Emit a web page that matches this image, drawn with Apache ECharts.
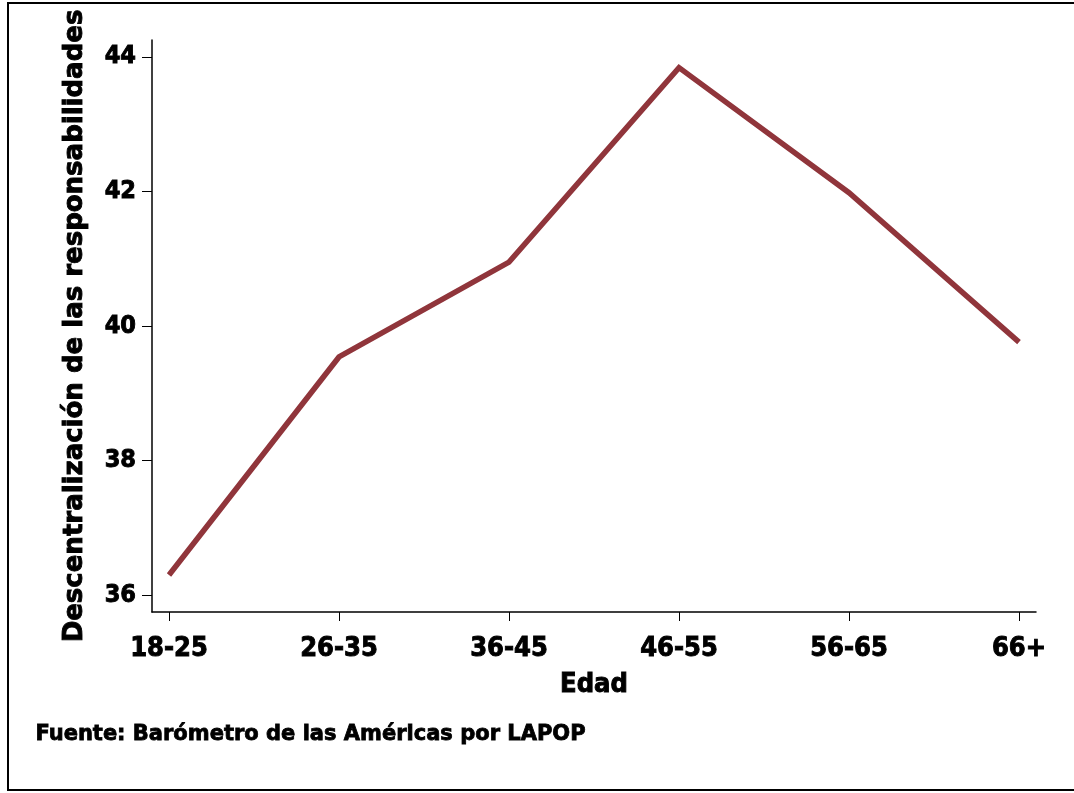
<!DOCTYPE html>
<html>
<head>
<meta charset="utf-8">
<script src="https://cdn.jsdelivr.net/npm/echarts@6/dist/echarts.min.js"></script>
<style>
html,body{margin:0;padding:0;background:#fff;}
#chart{width:1074px;height:793px;}
</style>
</head>
<body>
<div id="chart"></div>
<script>
const categories = ['18-25','26-35','36-45','46-55','56-65','66+'];
const values = [36.30, 39.54, 40.95, 43.84, 41.98, 39.76];
const yTicks = [36, 38, 40, 42, 44];
const yAxisTitle = 'Descentralización de las responsabilidades';
const xAxisTitle = 'Edad';
const sourceNote = 'Fuente: Barómetro de las Américas por LAPOP';

const FONT = '"DejaVu Sans", sans-serif';
const FONTC = '"DejaVu Sans Condensed", "DejaVu Sans", sans-serif';
const heavy = {textBorderColor:'#000', textBorderWidth:0.9};
const chart = echarts.init(document.getElementById('chart'), null, {renderer:'canvas'});
const xIdx = categories.map((c,i)=>i);
chart.setOption({
  animation:false,
  backgroundColor:'#fff',
  grid:{left:152, right:38, top:40, bottom:181},
  xAxis:{
    type:'value', min:-0.1, max:5.1,
    splitLine:{show:false},
    axisLine:{show:true, onZero:false, lineStyle:{color:'#000', width:1.5}},
    axisTick:{show:true, length:9, customValues:xIdx, lineStyle:{color:'#000', width:1}},
    axisLabel:Object.assign({customValues:xIdx, formatter:v=>categories[Math.round(v)], color:'#000',
      fontFamily:FONTC, fontWeight:'bold', fontSize:27, margin:23}, heavy),
    name:xAxisTitle, nameLocation:'middle', nameGap:59,
    nameTextStyle:Object.assign({color:'#000', fontFamily:FONTC, fontWeight:'bold', fontSize:27}, heavy)
  },
  yAxis:{
    type:'value', min:35.75, max:44.25,
    splitLine:{show:false},
    axisLine:{show:true, onZero:false, lineStyle:{color:'#000', width:1.5}},
    axisTick:{show:true, length:10, customValues:yTicks, lineStyle:{color:'#000', width:1}},
    axisLabel:Object.assign({customValues:yTicks, color:'#000', fontFamily:FONTC, fontWeight:'bold', fontSize:25, margin:16}, heavy),
    name:yAxisTitle, nameLocation:'middle', nameGap:64, nameRotate:90,
    nameTextStyle:Object.assign({color:'#000', fontFamily:FONT, fontWeight:'bold', fontSize:26}, heavy)
  },
  series:[{
    type:'line',
    data:values.map((v,i)=>[xIdx[i], v]),
    showSymbol:false,
    lineStyle:{color:'#90353B', width:5.5, join:'miter'},
    itemStyle:{color:'#90353B'}
  }],
  graphic:[
    {type:'rect', shape:{x:8, y:3, width:1075, height:787}, style:{fill:'none', stroke:'#000', lineWidth:2}, silent:true},
    {type:'text', left:35, top:724, style:{text:sourceNote, fill:'#000', stroke:'#000', lineWidth:0.8, font:'bold 21px "DejaVu Sans", sans-serif'}}
  ]
});
</script>
</body>
</html>
